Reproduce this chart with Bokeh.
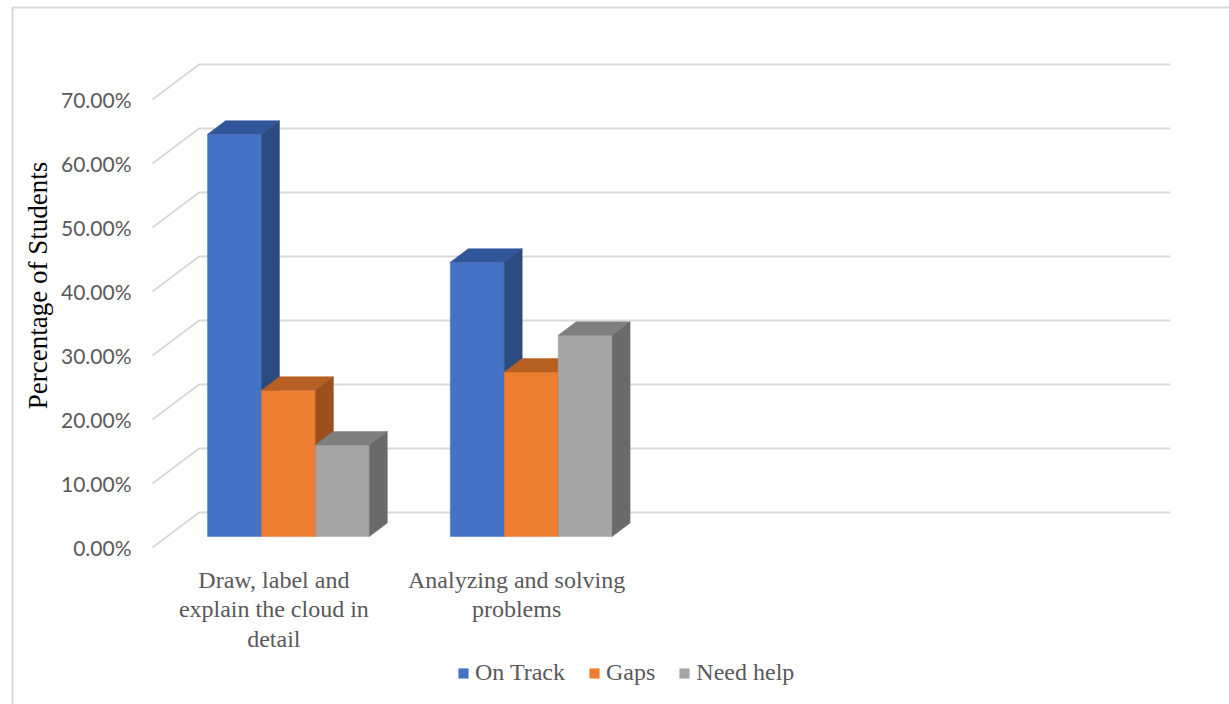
import textwrap
from math import pi

from bokeh.core.properties import value
from bokeh.embed import file_html
from bokeh.models import Legend, LegendItem, Range1d
from bokeh.plotting import figure
from bokeh.resources import INLINE

# ---- data -------------------------------------------------------------
categories = [
    "Draw, label and explain the cloud in detail",
    "Analyzing and solving problems",
]
series_names = ["On Track", "Gaps", "Need help"]
on_track = [0.6286, 0.4286]
gaps = [0.2286, 0.2571]
need_help = [0.1429, 0.3143]
y_ticks = [0.0, 0.1, 0.2, 0.3, 0.4, 0.5, 0.6, 0.7]
y_title = "Percentage of Students"

# ---- styling / layout ---------------------------------------------------
W, H = 1229, 704
N_SLOTS = 4                      # category slots on the floor (last two empty)
FLOOR_LEFT_PX = 152.0            # front-left corner of the floor
ZERO_PX = 547.0                  # front edge of the 0 % plane
CAT_PX = 242.75                  # pixels per category slot
UNIT_PX = 640.0                  # pixels per 100 %
DEPTH_DX_PX, DEPTH_DY_PX = 46.5, 35.0   # oblique offset of the back wall

DX = DEPTH_DX_PX / CAT_PX        # depth offset in data units
DY = DEPTH_DY_PX / UNIT_PX
Z0, Z1 = 0.314, 0.70             # bar depth span (0 = front, 1 = back wall)
BAR_W = 1.0 / 4.5                # bar width in category units

front_colors = ["#4472C4", "#ED7D31", "#A5A5A5"]
top_colors = ["#32569A", "#B65F22", "#7F7F7F"]
side_colors = ["#2B4A80", "#9A4F1C", "#6A6A6A"]
grid_color = "#D9D9D9"
text_color = "#595959"
serif = "Liberation Serif"


def px_x(px):
    return (px - FLOOR_LEFT_PX) / CAT_PX


def px_y(py):
    return (ZERO_PX - py) / UNIT_PX


p = figure(
    width=W, height=H,
    x_range=Range1d(px_x(0), px_x(W)),
    y_range=Range1d(px_y(H), px_y(0)),
    x_axis_location=None, y_axis_location=None,
    toolbar_location=None, output_backend="svg",
    min_border=0, outline_line_color=None,
    background_fill_color="white", border_fill_color="white",
)
p.grid.visible = False

# chart border (left and top edges)
p.line([px_x(12), px_x(12), px_x(W + 5)], [px_y(H + 5), px_y(7), px_y(7)],
       line_color=grid_color, line_width=2)

# gridlines: diagonal on the side wall, horizontal along the back wall
for t in y_ticks:
    p.line([0, DX, N_SLOTS + DX], [t, t + DY, t + DY],
           line_color=grid_color, line_width=2)

# tick labels
p.text(x=[px_x(131)] * len(y_ticks), y=y_ticks,
       text=[f"{t * 100:.2f}%" for t in y_ticks],
       text_align="right", text_baseline="middle",
       text_font=value("Lato"), text_font_size="21px", text_color=text_color)

# axis title
p.text(x=[px_x(37)], y=[px_y(285)], text=[y_title], angle=pi / 2,
       text_align="center", text_baseline="middle",
       text_font=value(serif), text_font_size="27px", text_color="#000000")

# category labels along the front edge of the floor
p.text(x=[i + 0.5 for i in range(len(categories))],
       y=[px_y(566)] * len(categories),
       text=["\n".join(textwrap.wrap(c, 21)) for c in categories],
       text_align="center", text_baseline="top", text_line_height=1.15,
       text_font=value(serif), text_font_size="24px", text_color=text_color)

# 3-D bars: front, top and side faces for each series
dz = Z1 - Z0
offset = (1 - BAR_W * len(series_names)) / 2
legend_items = []
for s, (name, vals) in enumerate(zip(series_names, [on_track, gaps, need_help])):
    fx, fy, tx, ty, sx, sy = [], [], [], [], [], []
    for c, v in enumerate(vals):
        x0 = c + offset + s * BAR_W + Z0 * DX
        x1 = x0 + BAR_W
        b = Z0 * DY
        top = v + b
        fx.append([x0, x1, x1, x0]); fy.append([b, b, top, top])
        tx.append([x0, x1, x1 + dz * DX, x0 + dz * DX])
        ty.append([top, top, top + dz * DY, top + dz * DY])
        sx.append([x1, x1 + dz * DX, x1 + dz * DX, x1])
        sy.append([b, b + dz * DY, top + dz * DY, top])
    r = p.patches(fx, fy, fill_color=front_colors[s], line_color=front_colors[s], line_width=0.5)
    p.patches(tx, ty, fill_color=top_colors[s], line_color=top_colors[s], line_width=0.5)
    p.patches(sx, sy, fill_color=side_colors[s], line_color=side_colors[s], line_width=0.5)
    legend_items.append(LegendItem(label=name, renderers=[r]))

legend = Legend(
    items=legend_items, orientation="horizontal", location=(457, 18),
    glyph_width=12, glyph_height=12, label_standoff=6, spacing=23,
    padding=0, margin=0, border_line_alpha=0, background_fill_alpha=0,
    label_text_font=serif, label_text_font_size="24px", label_text_color=text_color,
)
p.add_layout(legend)

open("out.html", "w").write(file_html(p, INLINE))
